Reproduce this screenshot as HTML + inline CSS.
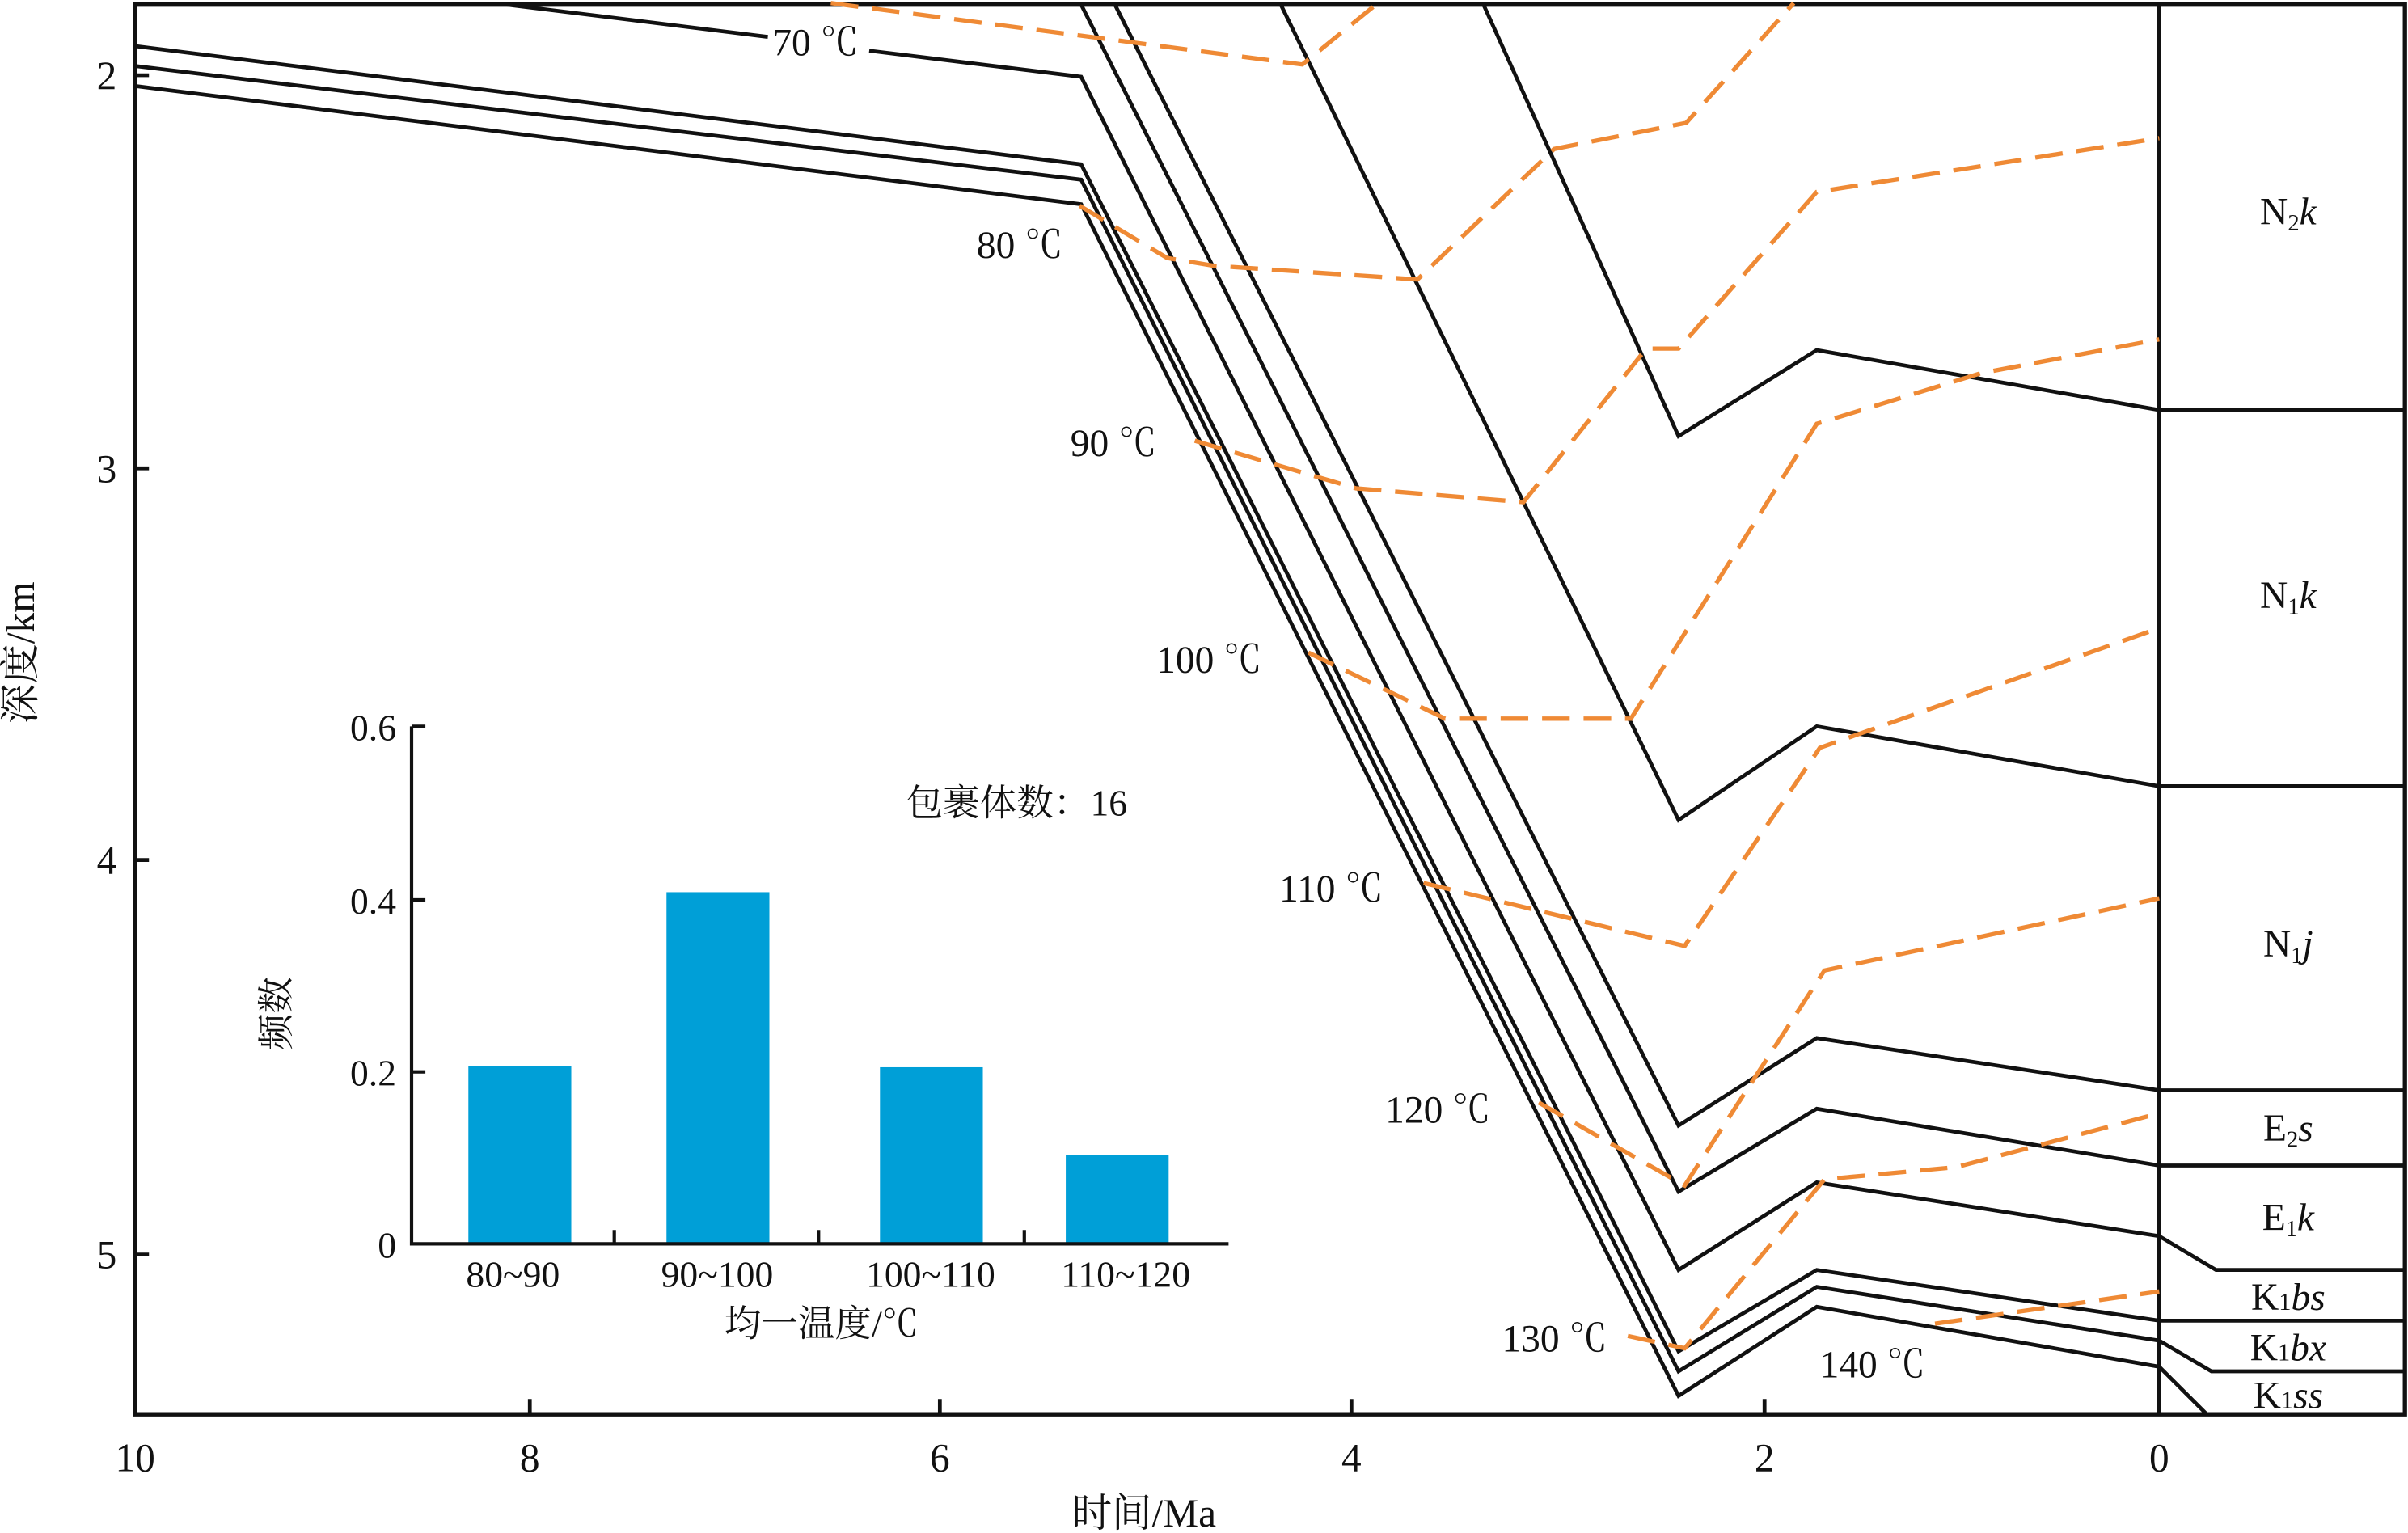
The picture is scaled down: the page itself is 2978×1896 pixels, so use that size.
<!DOCTYPE html>
<html><head><meta charset="utf-8"><style>
html,body{margin:0;padding:0;background:#fff;}
svg{display:block;}
text{font-family:"Liberation Serif","Noto Serif CJK SC",serif;fill:#111;}
</style></head><body>
<svg width="2978" height="1896" viewBox="0 0 1568 998.3" preserveAspectRatio="none" xmlns="http://www.w3.org/2000/svg">
<rect width="1568" height="998.3" fill="#fff"/>
<g fill="none" stroke="#111" stroke-width="2.5" stroke-linejoin="miter">
<path d="M88,3 H1566 V921 H88 Z" stroke-width="2.8"/>
<path d="M1406,3 V921"/>
<path d="M88,49 H97 M88,305 H97 M88,560 H97 M88,817 H97"/>
<path d="M345,921 V911 M612,921 V911 M880,921 V911 M1149,921 V911"/>
<path d="M330,3 L500,24 M566,33 L704,50 L1093,827 L1183,770 L1406,805 L1443,827 L1566,827"/>
<path d="M88,30 L704,107 L1093,880 L1183,827 L1406,860 L1566,860"/>
<path d="M88,43 L704,117 L1093,893 L1183,838 L1406,873 L1440,893 L1566,893"/>
<path d="M88,56 L704,133 L1093,909 L1183,851 L1406,890 L1437,921"/>
<path d="M704,3 L1093,776 L1183,722 L1406,759 L1566,759"/>
<path d="M726,3 L1093,733 L1183,676 L1406,710 L1566,710"/>
<path d="M834,3 L1093,534 L1183,473 L1406,512 L1566,512"/>
<path d="M966,3 L1093,284 L1183,228 L1406,267 L1566,267"/>
</g>
<g fill="none" stroke="#ef8a35" stroke-width="2.8" stroke-dasharray="18,9">
<path d="M541,2 L848,42 L896,3"/>
<path d="M703,134 L760,168 L790,173 L923,182 L1012,97 L1098,80 L1168,2"/>
<path d="M778,287 L883,318 L992,327 L1072,227 L1093,227 L1183,125 L1406,90"/>
<path d="M852,425 L941,468 L1062,468 L1183,276 L1290,243 L1406,221"/>
<path d="M927,575 L1097,616 L1185,487 L1406,409"/>
<path d="M1002,718 L1097,772 L1188,632 L1406,585"/>
<path d="M1060,870 L1097,878 L1188,768 L1274,760 L1406,725"/>
<path d="M1260,862 L1406,841"/>
</g>
<g font-size="25">
<text x="503" y="36">70 ℃</text>
<text x="636" y="168">80 ℃</text>
<text x="697" y="297">90 ℃</text>
<text x="753" y="438">100 ℃</text>
<text x="833" y="587">110 ℃</text>
<text x="902" y="731">120 ℃</text>
<text x="978" y="880">130 ℃</text>
<text x="1185" y="897">140 ℃</text>
</g>
<g font-size="26" text-anchor="end">
<text x="76" y="58">2</text>
<text x="76" y="314">3</text>
<text x="76" y="569">4</text>
<text x="76" y="826">5</text>
</g>
<g font-size="26" text-anchor="middle">
<text x="88" y="958">10</text>
<text x="345" y="958">8</text>
<text x="612" y="958">6</text>
<text x="880" y="958">4</text>
<text x="1149" y="958">2</text>
<text x="1406" y="958">0</text>
<text x="745" y="994">时间/Ma</text>
<text transform="translate(22,425) rotate(-90)">深度/km</text>
</g>
<g font-size="25" text-anchor="middle">
<text x="1490" y="146">N<tspan font-size="15" dy="4">2</tspan><tspan dy="-4" font-style="italic">k</tspan></text>
<text x="1490" y="396">N<tspan font-size="15" dy="4">1</tspan><tspan dy="-4" font-style="italic">k</tspan></text>
<text x="1490" y="623">N<tspan font-size="15" dy="4">1</tspan><tspan dy="-4" font-style="italic">j</tspan></text>
<text x="1490" y="743">E<tspan font-size="15" dy="4">2</tspan><tspan dy="-4" font-style="italic">s</tspan></text>
<text x="1490" y="801">E<tspan font-size="15" dy="4">1</tspan><tspan dy="-4" font-style="italic">k</tspan></text>
<text x="1490" y="853">K<tspan font-size="16">1</tspan><tspan font-style="italic">bs</tspan></text>
<text x="1490" y="886">K<tspan font-size="16">1</tspan><tspan font-style="italic">bx</tspan></text>
<text x="1490" y="917">K<tspan font-size="16">1</tspan><tspan font-style="italic">ss</tspan></text>
</g>
<g fill="#009fd7">
<rect x="305" y="694" width="67" height="116"/>
<rect x="434" y="581" width="67" height="229"/>
<rect x="573" y="695" width="67" height="115"/>
<rect x="694" y="752" width="67" height="58"/>
</g>
<g fill="none" stroke="#111" stroke-width="2.2">
<path d="M268,473 V810 H800"/>
<path d="M268,473 H277 M268,586 H277 M268,698 H277"/>
<path d="M400,810 V801 M533,810 V801 M667,810 V801"/>
</g>
<g font-size="24" text-anchor="end">
<text x="258" y="482">0.6</text>
<text x="258" y="595">0.4</text>
<text x="258" y="707">0.2</text>
<text x="258" y="819">0</text>
</g>
<g font-size="24" text-anchor="middle">
<text x="334" y="838">80~90</text>
<text x="467" y="838">90~100</text>
<text x="606" y="838">100~110</text>
<text x="733" y="838">110~120</text>
<text x="535" y="870">均一温度/℃</text>
<text x="662" y="531">包裹体数：16</text>
<text transform="translate(188,660) rotate(-90)">频数</text>
</g>
</svg>
</body></html>
